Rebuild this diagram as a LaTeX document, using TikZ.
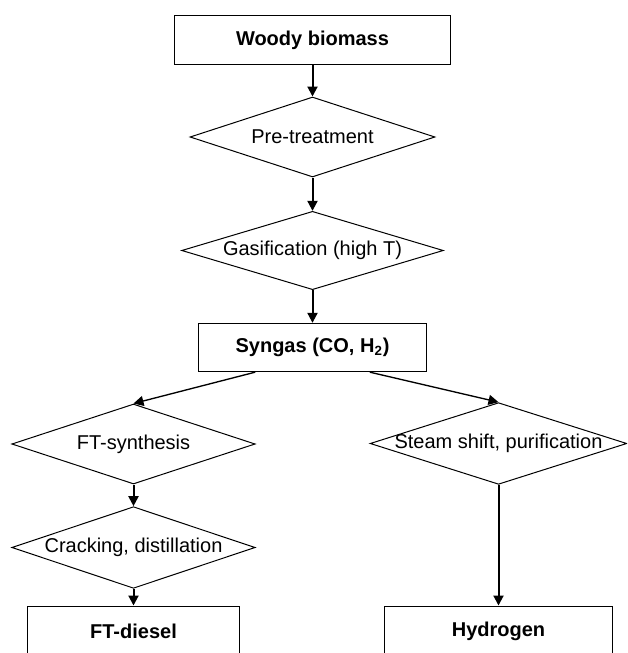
\documentclass[tikz,border=0pt]{standalone}
\usepackage{fontspec}
\setmainfont{Liberation Sans}
\usetikzlibrary{shapes.geometric,arrows.meta,calc}

\tikzset{
	prodbox/.style={shape=rectangle,draw=black,line width=0.6pt,inner sep=0pt,font=\fontsize{12}{14}\selectfont\bfseries},
	procdiamond/.style={shape=diamond,draw=black,line width=0.6pt,inner sep=0pt},
	flow/.style={-{Triangle[length=6pt,width=6pt]},line width=1.2pt},
	sideflow/.style={flow,line width=0.8pt}
}
\newcommand{\flatlabel}[1]{\makebox[0pt]{#1}}

\begin{document}
\begin{tikzpicture}[x=0.6pt,y=-0.6pt,font=\fontsize{12}{14}\selectfont]
	\useasboundingbox (0,0) rectangle (627,653);
	\clip (0,0) rectangle (627,653);

	% main line
	\node[prodbox,minimum width=166pt,minimum height=29pt] (wood) at (312.5, 40)    {Woody biomass};
	\node[procdiamond,minimum width=147pt,minimum height=48pt] (pretreat) at (312.5, 137)   {\flatlabel{Pre-treatment}};
	\node[procdiamond,minimum width=157pt,minimum height=47pt] (gasif) at (312.5, 250.5)   {\flatlabel{Gasification (high T)}};
	\node[prodbox,minimum width=137pt,minimum height=29pt] (syngas) at (312.5, 347.5)   {Syngas (CO, H\textsubscript{2})};

	% diesel branch
	\node[procdiamond,minimum width=146pt,minimum height=48pt] (ftsyn) at (133.5, 444)   {\flatlabel{FT-synthesis}};
	\node[procdiamond,minimum width=146pt,minimum height=49pt] (crack) at (133.5, 547.5)   {\flatlabel{Cracking, distillation}};
	\node[prodbox,minimum width=127pt,minimum height=30pt] (diesel) at (133.5, 631)   {FT-diesel};

	% hydrogen branch
	\node[procdiamond,minimum width=154pt,minimum height=49pt] (steam) at (498.5, 443.5)   {\flatlabel{Steam shift, purification}};
	\node[prodbox,minimum width=137pt,minimum height=30pt] (hydro) at (498.5, 631)   {Hydrogen};

	\path[flow] (wood) edge (pretreat);
	\path[flow] (pretreat) edge (gasif);
	\path[flow] (gasif) edge (syngas);
	\path[sideflow] ($(syngas.south west)!0.25!(syngas.south east)$) edge (ftsyn.north);
	\path[sideflow] ($(syngas.south west)!0.75!(syngas.south east)$) edge (steam.north);
	\path[flow] (ftsyn) edge (crack);
	\path[flow] (crack) edge (diesel);
	\path[flow] (steam) edge (hydro);

\end{tikzpicture}
\end{document}
